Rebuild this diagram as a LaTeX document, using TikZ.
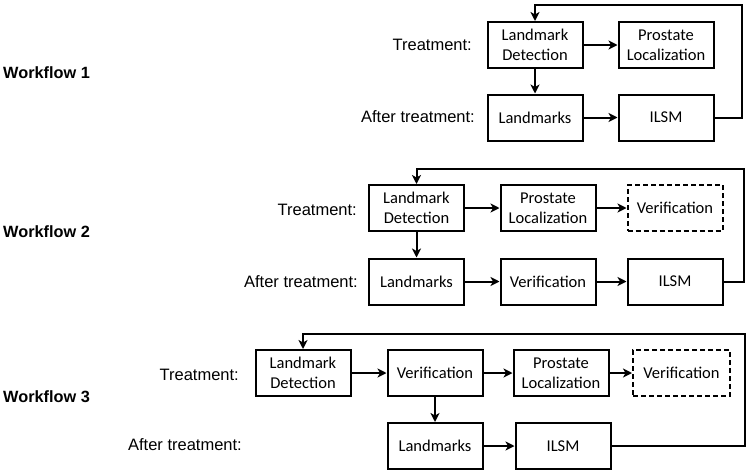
\documentclass[tikz,border=0pt]{standalone}
\usepackage{fontspec}
\setmainfont{Carlito}
\newfontfamily\arialfont{Liberation Sans}
\usetikzlibrary{arrows.meta}
\tikzset{
  box/.style={draw, line width=2pt, minimum width=95pt, minimum height=46pt, inner sep=0pt, align=center, font=\fontsize{16.5}{20}\selectfont},
  dbox/.style={box, dash pattern=on 5pt off 3pt},
  lab/.style={anchor=east, inner sep=0pt, font=\arialfont\fontsize{16.5}{20}\selectfont},
  wf/.style={anchor=west, inner sep=0pt, font=\arialfont\bfseries\fontsize{16.3}{20}\selectfont},
  arr/.style={line width=2pt, -{Stealth[length=9pt,width=9pt,inset=2.5pt]}},
}
\begin{document}
\begin{tikzpicture}[x=1pt,y=-1pt]
\useasboundingbox (0,0) rectangle (750,474);
% Workflow 1
\node[wf] (w1) at (3,73) {Workflow 1};
\node[lab] (t1) at (472,45) {Treatment:};
\node[lab] (a1) at (475,117) {After treatment:};
\node[box] (LD1) at (535,45) {Landmark\\Detection};
\node[box] (PL1) at (666,45) {Prostate\\Localization};
\node[box] (LM1) at (535,117.5) {Landmarks};
\node[box] (IL1) at (666,117.5) {ILSM};
\coordinate (c1) at (742,5);
\draw[arr] (LD1) -- (PL1);
\draw[arr] (LD1) -- (LM1);
\draw[arr] (LM1) -- (IL1);
\draw[arr] (IL1.east) -| (c1) -| (LD1.north);
% Workflow 2
\node[wf] (w2) at (3,232) {Workflow 2};
\node[lab] (t2) at (357,210) {Treatment:};
\node[lab] (a2) at (358,282) {After treatment:};
\node[box] (LD2) at (416.5,208) {Landmark\\Detection};
\node[box] (PL2) at (548,208) {Prostate\\Localization};
\node[dbox] (VD2) at (675,208) {Verification};
\node[box] (LM2) at (416.5,281.5) {Landmarks};
\node[box] (VF2) at (548,281.5) {Verification};
\node[box] (IL2) at (675,281.5) {ILSM};
\coordinate (c2) at (744,169);
\draw[arr] (LD2) -- (PL2);
\draw[arr] (PL2) -- (VD2);
\draw[arr] (LD2) -- (LM2);
\draw[arr] (LM2) -- (VF2);
\draw[arr] (VF2) -- (IL2);
\draw[arr] (IL2.east) -| (c2) -| (LD2.north);
% Workflow 3
\node[wf] (w3) at (3,397) {Workflow 3};
\node[lab] (t3) at (239,375) {Treatment:};
\node[lab] (a3) at (242,445) {After treatment:};
\node[box] (LD3) at (303,373) {Landmark\\Detection};
\node[box] (VF3) at (435,373) {Verification};
\node[box] (PL3) at (561,373) {Prostate\\Localization};
\node[dbox, minimum width=97pt] (VD3) at (681.5,373) {Verification};
\node[box] (LM3) at (435,446) {Landmarks};
\node[box] (IL3) at (563,446) {ILSM};
\coordinate (c3) at (745,334);
\draw[arr] (LD3) -- (VF3);
\draw[arr] (VF3) -- (PL3);
\draw[arr] (PL3) -- (VD3);
\draw[arr] (VF3) -- (LM3);
\draw[arr] (LM3) -- (IL3);
\draw[arr] (IL3.east) -| (c3) -| (LD3.north);
\end{tikzpicture}
\end{document}
